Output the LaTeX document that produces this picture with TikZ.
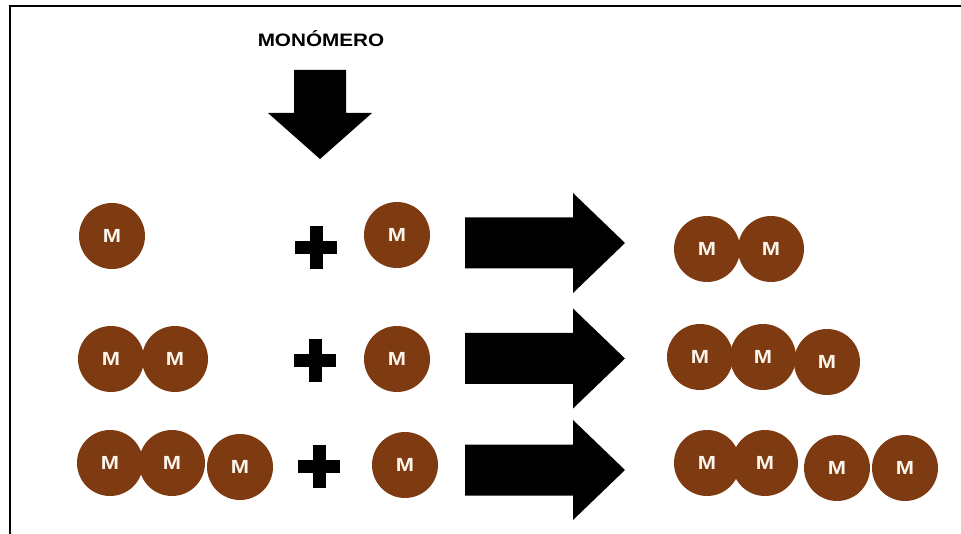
\documentclass[tikz,border=0pt]{standalone}
\usepackage{fontspec}
\setmainfont{Liberation Sans}
\definecolor{monobrown}{RGB}{126,58,16}
\definecolor{monolabel}{RGB}{250,244,236}
\tikzset{
  mono/.style={circle, fill=monobrown, minimum size=66pt, inner sep=0pt,
    text=monolabel, font=\fontsize{19}{19}\selectfont\bfseries},
  pics/plussign/.style={code={
    \fill (-21,-6.5) rectangle (21,6.5);
    \fill (-6.5,-21.5) rectangle (6.5,21.5);
  }},
  pics/bigarrow/.style={code={
    \fill (465,-25.5) -- (573,-25.5) -- (573,-50) -- (625,0) -- (573,50)
          -- (573,25.5) -- (465,25.5) -- cycle;
  }}
}
\newcommand{\mtext}{\scalebox{1.15}[1]{M}}
\begin{document}
\begin{tikzpicture}[x=1pt, y=-1pt]
  \useasboundingbox (0,0) rectangle (961,534);
  % frame (top and left edges)
  \draw[line width=2.5pt] (10,534) -- (10,6) -- (961,6);

  % monomer feed
  \node (title) at (321,39) {\fontsize{18}{18}\selectfont\bfseries\scalebox{1.15}[1]{MONÓMERO}};
  \fill (294,70) -- (346,70) -- (346,113) -- (372,113) -- (320,159)
        -- (268,113) -- (294,113) -- cycle;

  % row 1
  \node[mono] (a1) at (112,236) {\mtext};
  \pic at (316,248) {plussign};
  \node[mono] (a2) at (397,235) {\mtext};
  \pic at (0,243) {bigarrow};
  \node[mono] (a3) at (707,249) {\mtext};
  \node[mono] (a4) at (771,249) {\mtext};

  % row 2
  \node[mono] (b1) at (111,359) {\mtext};
  \node[mono] (b2) at (175,359) {\mtext};
  \pic at (315,361) {plussign};
  \node[mono] (b3) at (397,359) {\mtext};
  \pic at (0,358.5) {bigarrow};
  \node[mono] (b4) at (700,357) {\mtext};
  \node[mono] (b5) at (763,357) {\mtext};
  \node[mono] (b6) at (827,362) {\mtext};

  % row 3
  \node[mono] (c1) at (110,463) {\mtext};
  \node[mono] (c2) at (172,463) {\mtext};
  \node[mono] (c3) at (240,467) {\mtext};
  \pic at (319,466) {plussign};
  \node[mono] (c4) at (405,465) {\mtext};
  \pic at (0,470) {bigarrow};
  \node[mono] (c5) at (707,463) {\mtext};
  \node[mono] (c6) at (765,463) {\mtext};
  \node[mono] (c7) at (837,468) {\mtext};
  \node[mono] (c8) at (905,468) {\mtext};
\end{tikzpicture}
\end{document}
